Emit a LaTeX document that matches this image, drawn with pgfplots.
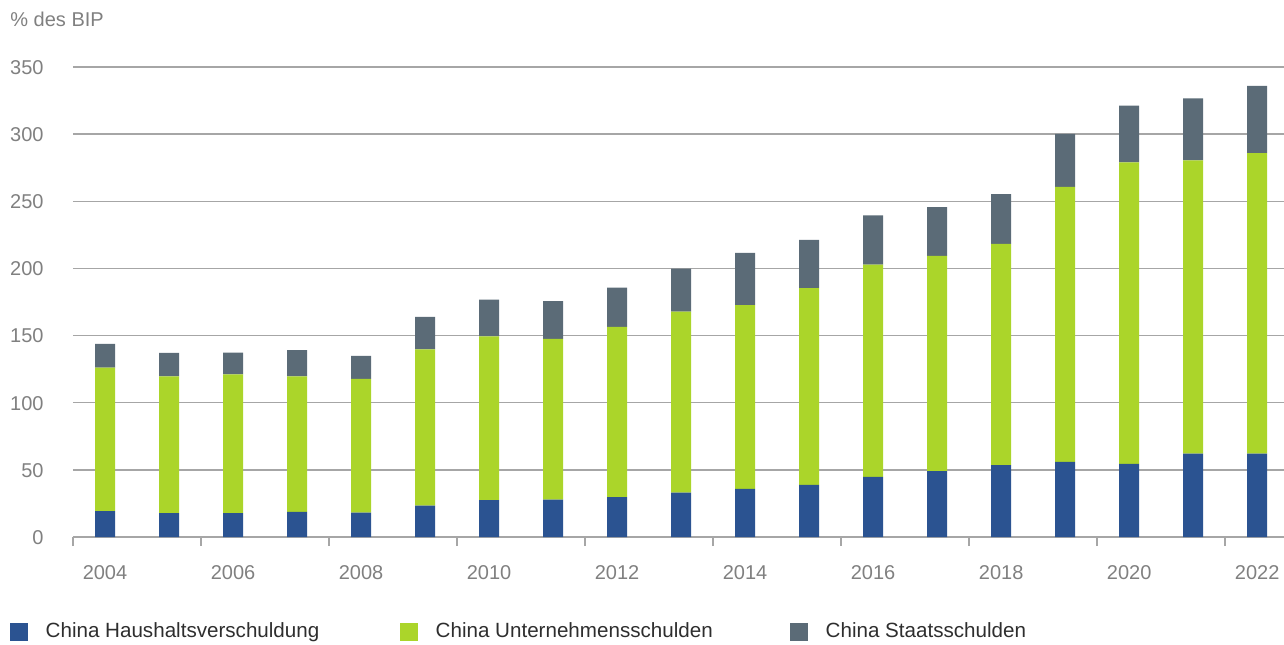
\documentclass[border=0pt]{standalone}
\usepackage{fontspec}
\setmainfont{Liberation Sans}
\usepackage{pgfplots}
\usepackage{pgfplotstable}
\pgfplotsset{compat=1.18}
\definecolor{cblue}{HTML}{2B5391}
\definecolor{cgreen}{HTML}{ABD52A}
\definecolor{cgray}{HTML}{5B6B77}
\definecolor{gridc}{HTML}{A6A6A6}
\definecolor{tickc}{HTML}{808080}
\definecolor{legc}{HTML}{2E2E2E}
\pgfplotsset{sqleg/.style={legend image code/.code={\fill[##1] (0pt,-4.5pt) rectangle (9pt,4.5pt);}}}
\pgfplotstableread{
year h u s
2004 19.2 107.0 17.7
2005 17.7 102.0 17.5
2006 17.7 103.5 16.2
2007 18.7 101.0 19.4
2008 18.2 99.6 17.1
2009 23.3 116.5 24.2
2010 27.5 122.0 27.3
2011 27.9 119.7 28.0
2012 29.7 126.8 29.3
2013 33.1 134.8 32.0
2014 35.9 136.7 39.0
2015 38.9 146.4 36.0
2016 44.8 158.1 36.7
2017 49.0 160.4 36.2
2018 53.5 164.8 37.0
2019 55.9 204.9 39.4
2020 54.5 224.4 42.4
2021 62.1 218.3 46.3
2022 62.1 223.7 50.2
}\data
\begin{document}
\begin{tikzpicture}
\begin{axis}[
  at={(0,0)}, anchor=south west,
  scale only axis, width=605.5pt, height=235pt,
  xmin=2003.5, xmax=2022.42, ymin=0, ymax=350,
  ybar stacked, bar width=10pt,
  axis lines*=left,
  x axis line style={gridc, line width=0.75pt},
  y axis line style={draw=none},
  ytick={0,50,...,350},
  ymajorgrids, grid style={gridc, line width=0.75pt},
  xtick={2004,2006,...,2022},
  minor xtick={2003.5,2005.5,2007.5,2009.5,2011.5,2013.5,2015.5,2017.5,2019.5,2021.5},
  tick align=outside,
  major tick length=0pt, minor tick length=4.5pt,
  major tick style={draw=none},
  minor x tick style={draw=gridc, line width=0.75pt},
  /pgf/number format/assume math mode=true,
  /pgf/number format/1000 sep={},
  tick label style={text=tickc},
  yticklabel style={anchor=base east, inner sep=0pt, xshift=-14.5pt, yshift=-3.65pt},
  xticklabel style={anchor=base, inner sep=0pt, yshift=-21.2pt},
  legend columns=3,
  legend style={at={(axis description cs:-0.05202,-0.2017)}, anchor=west,
    draw=none, fill=none, inner sep=0pt, outer sep=0pt, column sep=0pt,
    text=legc, font=\fontsize{10.3}{12}\selectfont, nodes={inner sep=0pt},
    /tikz/every odd column/.append style={column sep=8.85pt}},
]
\addplot[fill=cblue, draw=none, sqleg] table[x=year, y=h] {\data};
\addlegendentry{\makebox[177.15pt][l]{China Haushaltsverschuldung}}
\addplot[fill=cgreen, draw=none, sqleg] table[x=year, y=u] {\data};
\addlegendentry{\makebox[177.15pt][l]{China Unternehmensschulden}}
\addplot[fill=cgray, draw=none, sqleg] table[x=year, y=s] {\data};
\addlegendentry{China Staatsschulden}
\end{axis}
\node[anchor=base west, inner sep=0pt, text=tickc] at (-31.5pt,255.2pt) {\% des BIP};
\pgfresetboundingbox
\useasboundingbox (-36.5pt,-53.5pt) rectangle (605.5pt,268.5pt);
\end{tikzpicture}
\end{document}
